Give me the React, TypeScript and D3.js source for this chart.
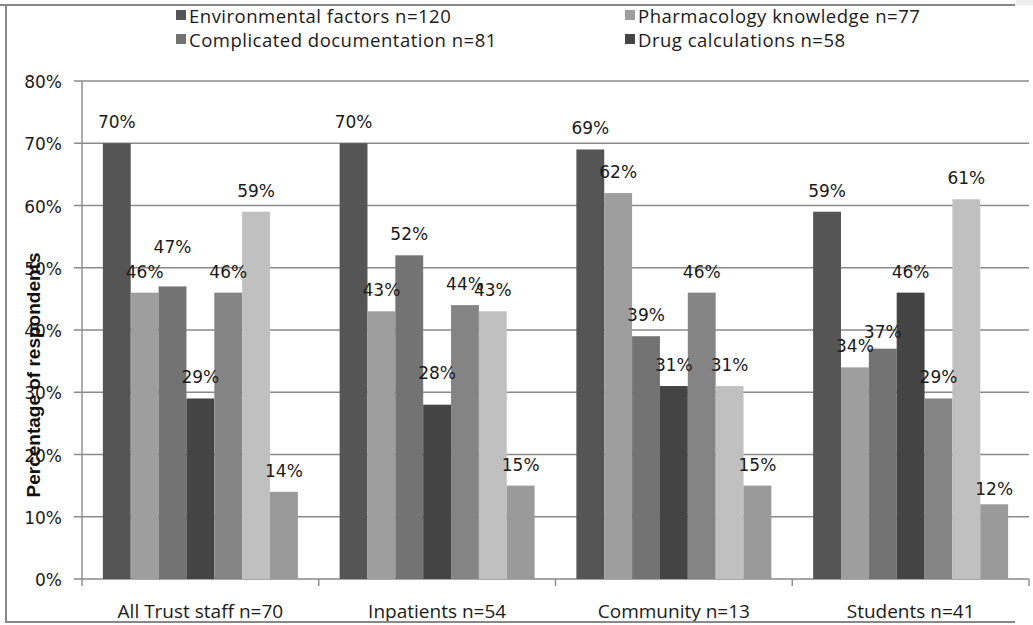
import React from "react";
import * as d3 from "d3";

const categories = ["All Trust staff n=70", "Inpatients n=54", "Community n=13", "Students n=41"];
const seriesNames = [
  "Environmental factors n=120",
  "Pharmacology knowledge n=77",
  "Complicated documentation n=81",
  "Drug calculations n=58",
  "Series 5",
  "Series 6",
  "Series 7",
];
// values per series, one per category (percent)
const environmental = [70, 70, 69, 59];
const pharmacology = [46, 43, 62, 34];
const documentation = [47, 52, 39, 37];
const calculations = [29, 28, 31, 46];
const series5 = [46, 44, 46, 29];
const series6 = [59, 43, 31, 61];
const series7 = [14, 15, 15, 12];
const seriesValues = [environmental, pharmacology, documentation, calculations, series5, series6, series7];
const yTicks = [0, 10, 20, 30, 40, 50, 60, 70, 80];
const legendShown = 4;

// styles
const colors = ["#555555", "#9e9e9e", "#737373", "#444444", "#848484", "#c0c0c0", "#9a9a9a"];
// manual label nudges seen in the original (series index, category index, dy)
const labelNudges: [number, number, number][] = [
  [2, 0, -18],
  [3, 1, -11],
  [2, 3, 4],
  [6, 3, 6],
];

export default function App() {
  const W = 1033;
  const H = 625;
  const left = 82;
  const right = 1029;
  const top = 81;
  const bottom = 579;

  const x0 = d3
    .scaleBand<string>()
    .domain(categories)
    .range([left, right])
    .paddingInner(0.1763)
    .paddingOuter(0.1763 / 2);
  const x1 = d3
    .scaleBand<number>()
    .domain(d3.range(seriesNames.length))
    .range([0, x0.bandwidth()]);
  const y = d3.scaleLinear().domain([0, 80]).range([bottom, top]);

  const nudge = (s: number, c: number) => {
    const f = labelNudges.find((n) => n[0] === s && n[1] === c);
    return f ? f[2] : 0;
  };

  const gridColor = "#8a8a8a";
  const catBounds = [...categories.map((c) => x0(c)! - (x0.step() - x0.bandwidth()) / 2), right];

  const legendX = [176, 625];
  const legendY = [15, 39];

  return (
    <div style={{ position: "absolute", left: 0, top: 0 }}>
      <svg width={W} height={H} style={{ display: "block", background: "#fff" }}>
        {/* gridlines */}
        {yTicks.map((t) => (
          <line key={"g" + t} x1={74} x2={right} y1={y(t)} y2={y(t)} stroke={gridColor} strokeWidth={1.4} />
        ))}
        {/* y axis */}
        <line x1={left} x2={left} y1={top} y2={bottom} stroke={gridColor} strokeWidth={1.4} />
        {/* category ticks */}
        {catBounds.map((b, i) => (
          <line key={"ct" + i} x1={b} x2={b} y1={bottom} y2={bottom + 7} stroke={gridColor} strokeWidth={1.4} />
        ))}
        {/* y tick labels */}
        {yTicks.map((t) => (
          <text
            key={"yl" + t}
            x={62}
            y={y(t) + 1}
            textAnchor="end"
            dominantBaseline="central"
            fontFamily="DejaVu Sans"
            fontSize={17}
            fill="#1a1a1a"
          >
            {t + "%"}
          </text>
        ))}
        {/* bars */}
        {categories.map((c, ci) => (
          <g key={c} transform={`translate(${x0(c)},0)`}>
            {seriesValues.map((vals, si) => (
              <rect
                key={si}
                x={x1(si)}
                y={y(vals[ci])}
                width={x1.bandwidth()}
                height={bottom - y(vals[ci])}
                fill={colors[si]}
              />
            ))}
          </g>
        ))}
        {/* data labels */}
        {categories.map((c, ci) => (
          <g key={"l" + c} transform={`translate(${x0(c)},0)`}>
            {seriesValues.map((vals, si) => (
              <text
                key={si}
                x={x1(si)! + x1.bandwidth() / 2}
                y={y(vals[ci]) - 15 + nudge(si, ci)}
                textAnchor="middle"
                fontFamily="DejaVu Sans"
                fontSize={17}
                fill="#1a1a1a"
              >
                {vals[ci] + "%"}
              </text>
            ))}
          </g>
        ))}
        {/* y axis title */}
        <text
          transform={`translate(40,375) rotate(-90)`}
          textAnchor="middle"
          fontFamily="Liberation Sans"
          fontWeight="bold"
          fontSize={19}
          fill="#111"
        >
          Percentage of respondents
        </text>
        {/* category labels */}
        {categories.map((c) => (
          <text
            key={"cl" + c}
            x={x0(c)! + x0.bandwidth() / 2}
            y={618}
            textAnchor="middle"
            fontFamily="Open Sans"
            fontSize={19}
            fill="#1a1a1a"
          >
            {c}
          </text>
        ))}
        {/* legend */}
        {seriesNames.slice(0, legendShown).map((name, i) => {
          const lx = legendX[i % 2];
          const ly = legendY[Math.floor(i / 2)];
          return (
            <g key={"lg" + i}>
              <rect x={lx} y={ly - 5} width={10} height={10} fill={colors[i]} />
              <text
                x={lx + 13}
                y={ly}
                dominantBaseline="central"
                fontFamily="Open Sans"
                fontSize={18.5}
                letterSpacing={0.5}
                fill="#1a1a1a"
              >
                {name}
              </text>
            </g>
          );
        })}
        {/* frame */}
        <rect x={0} y={0} width={W} height={4} fill="#fff" />
        <rect x={1016} y={0} width={17} height={5} fill="#eeeeee" />
        <line x1={0} x2={1015} y1={5} y2={5} stroke="#888" strokeWidth={2} />
        <line x1={6} x2={6} y1={5} y2={623} stroke="#888" strokeWidth={2} />
        <line x1={6} x2={1015} y1={622} y2={622} stroke="#888" strokeWidth={2} />
      </svg>
    </div>
  );
}
